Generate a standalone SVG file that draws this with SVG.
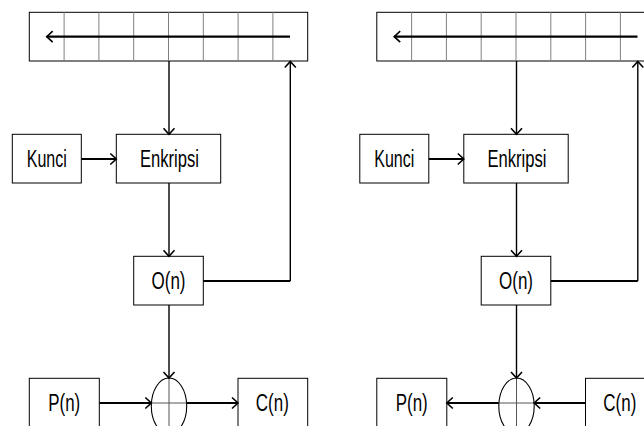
<svg xmlns="http://www.w3.org/2000/svg" width="644" height="426" viewBox="0 0 644 426">
<style>
.box{fill:#fff;stroke:#000;stroke-width:1}
.cell{stroke:#808080;stroke-width:1}
.lbl{font-family:"Liberation Sans Narrow","Liberation Sans",Arial,sans-serif;font-size:23px;fill:#000;text-anchor:middle}
.v{stroke:#000;stroke-width:1.4;fill:none}
.h{stroke:#000;stroke-width:2.2;fill:none}
.x{fill:none;stroke:#000;stroke-width:1.1}
.xc{stroke:#555;stroke-width:1}
</style>
<defs>
<marker id="ah" markerUnits="userSpaceOnUse" markerWidth="14" markerHeight="14" viewBox="-8 -7 10 14" refX="0" refY="0" orient="auto">
<path d="M-6,-5.5 L0,0 L-6,5.5" fill="none" stroke="#000" stroke-width="1.6"/>
</marker>
</defs>
<rect width="644" height="426" fill="#fff"/>

<!-- LEFT DIAGRAM -->
<g id="regL">
<rect class="box" x="29.3" y="12.3" width="278.4" height="48.7"/>
<g class="cell">
<line x1="64.1" y1="12.3" x2="64.1" y2="61"/>
<line x1="98.9" y1="12.3" x2="98.9" y2="61"/>
<line x1="133.7" y1="12.3" x2="133.7" y2="61"/>
<line x1="168.5" y1="12.3" x2="168.5" y2="61"/>
<line x1="203.3" y1="12.3" x2="203.3" y2="61"/>
<line x1="238.1" y1="12.3" x2="238.1" y2="61"/>
<line x1="272.9" y1="12.3" x2="272.9" y2="61"/>
</g>
<line class="h" x1="290" y1="36.7" x2="46.7" y2="36.7" marker-end="url(#ah)"/>
</g>
<g id="kunciL"><rect class="box" x="12.3" y="134.3" width="69" height="48.7"/><text class="lbl" x="46.8" y="166.5" textLength="40" lengthAdjust="spacingAndGlyphs">Kunci</text></g>
<g id="enkL"><rect class="box" x="116.3" y="134.3" width="104.4" height="48.7"/><text class="lbl" x="169.5" y="166.5" textLength="59" lengthAdjust="spacingAndGlyphs">Enkripsi</text></g>
<g id="onL"><rect class="box" x="133.7" y="256.3" width="69.6" height="48.7"/><text class="lbl" x="168.5" y="289" textLength="34" lengthAdjust="spacingAndGlyphs">O(n)</text></g>
<g id="xorL"><ellipse class="x" cx="169" cy="406" rx="17.7" ry="28"/><line class="xc" x1="169" y1="378" x2="169" y2="434"/><line class="xc" x1="151.3" y1="403" x2="186.7" y2="403"/></g>
<g id="pnL"><rect class="box" x="29.3" y="378.3" width="70" height="60"/><text class="lbl" x="64.2" y="410.5" textLength="32" lengthAdjust="spacingAndGlyphs">P(n)</text></g>
<g id="cnL"><rect class="box" x="238" y="378.3" width="69.7" height="60"/><text class="lbl" x="272.3" y="410.5" textLength="33" lengthAdjust="spacingAndGlyphs">C(n)</text></g>

<!-- RIGHT DIAGRAM -->
<g id="regR">
<rect class="box" x="376.8" y="12.3" width="278.4" height="48.7"/>
<g class="cell">
<line x1="411.6" y1="12.3" x2="411.6" y2="61"/>
<line x1="446.4" y1="12.3" x2="446.4" y2="61"/>
<line x1="481.2" y1="12.3" x2="481.2" y2="61"/>
<line x1="516" y1="12.3" x2="516" y2="61"/>
<line x1="550.8" y1="12.3" x2="550.8" y2="61"/>
<line x1="585.6" y1="12.3" x2="585.6" y2="61"/>
<line x1="620.4" y1="12.3" x2="620.4" y2="61"/>
</g>
<line class="h" x1="637.5" y1="36.7" x2="394.2" y2="36.7" marker-end="url(#ah)"/>
</g>
<g id="kunciR"><rect class="box" x="359.8" y="134.3" width="69" height="48.7"/><text class="lbl" x="394.3" y="166.5" textLength="40" lengthAdjust="spacingAndGlyphs">Kunci</text></g>
<g id="enkR"><rect class="box" x="463.8" y="134.3" width="104.4" height="48.7"/><text class="lbl" x="517" y="166.5" textLength="59" lengthAdjust="spacingAndGlyphs">Enkripsi</text></g>
<g id="onR"><rect class="box" x="481.2" y="256.3" width="69.6" height="48.7"/><text class="lbl" x="516" y="289" textLength="34" lengthAdjust="spacingAndGlyphs">O(n)</text></g>
<g id="xorR"><ellipse class="x" cx="516.5" cy="406" rx="17.7" ry="28"/><line class="xc" x1="516.5" y1="378" x2="516.5" y2="434"/><line class="xc" x1="498.8" y1="403" x2="534.2" y2="403"/></g>
<g id="pnR"><rect class="box" x="376.8" y="378.3" width="70" height="60"/><text class="lbl" x="411.7" y="410.5" textLength="32" lengthAdjust="spacingAndGlyphs">P(n)</text></g>
<g id="cnR"><rect class="box" x="585.5" y="378.3" width="69.7" height="60"/><text class="lbl" x="619.8" y="410.5" textLength="33" lengthAdjust="spacingAndGlyphs">C(n)</text></g>

<g id="connectors">
<line class="v" x1="169" y1="61" x2="169" y2="134.3" marker-end="url(#ah)"/>
<line class="h" x1="81.3" y1="159" x2="116.3" y2="159" marker-end="url(#ah)"/>
<line class="v" x1="169" y1="183" x2="169" y2="256.3" marker-end="url(#ah)"/>
<path class="h" d="M203.3,281 H290.3"/>
<line class="v" x1="290.3" y1="281" x2="290.3" y2="61.5" marker-end="url(#ah)"/>
<line class="v" x1="169" y1="305" x2="169" y2="378" marker-end="url(#ah)"/>
<line class="h" x1="99.3" y1="403" x2="151.3" y2="403" marker-end="url(#ah)"/>
<line class="h" x1="186.7" y1="403" x2="238" y2="403" marker-end="url(#ah)"/>

<line class="v" x1="516.5" y1="61" x2="516.5" y2="134.3" marker-end="url(#ah)"/>
<line class="h" x1="428.8" y1="159" x2="463.8" y2="159" marker-end="url(#ah)"/>
<line class="v" x1="516.5" y1="183" x2="516.5" y2="256.3" marker-end="url(#ah)"/>
<path class="h" d="M550.8,281 H637.8"/>
<line class="v" x1="637.8" y1="281" x2="637.8" y2="61.5" marker-end="url(#ah)"/>
<line class="v" x1="516.5" y1="305" x2="516.5" y2="378" marker-end="url(#ah)"/>
<line class="h" x1="585.5" y1="403" x2="534.2" y2="403" marker-end="url(#ah)"/>
<line class="h" x1="498.8" y1="403" x2="446.8" y2="403" marker-end="url(#ah)"/>
</g>
</svg>
